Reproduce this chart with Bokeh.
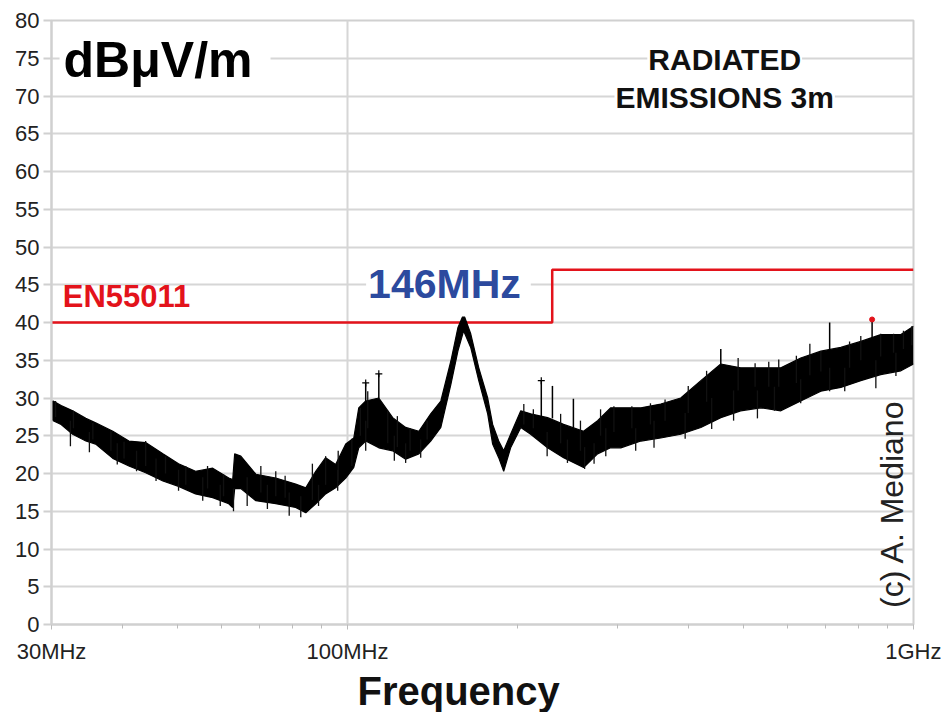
from bokeh.plotting import figure
from bokeh.models import FixedTicker, Label, Range1d, Title
from bokeh.embed import file_html
from bokeh.resources import INLINE

# ---- data ----
# envelope of the measured trace (MHz, dBuV/m)
freq_mhz = [30.0, 30.2, 31.2, 32.7, 34.5, 35.9, 38.5, 41.1, 44.0, 47.2, 50.3, 53.9, 57.8, 61.7,
            62.7, 63.2, 64.8, 68.9, 74.7, 81.0, 84.4, 87.9, 91.5, 95.3, 99.3, 102.6, 104.7, 107.7,
            113.6, 120.2, 126.7, 133.7, 140.3, 146.2, 152.3, 156.7, 160.4, 165.1, 170.6, 176.9,
            180.5, 185.0, 188.8, 194.2, 202.4, 210.7, 225.7, 240.9, 261.3, 276.6, 291.6, 304,
            330, 357.6, 388, 421, 456.6, 495, 537, 583, 632, 686, 744, 807, 875, 950, 1000]
upper_db = [29.4, 29.6, 29.0, 28.3, 27.3, 26.7, 25.6, 24.3, 24.1, 22.6, 21.3, 20.3, 20.7, 19.4,
            19.2, 22.6, 22.3, 19.9, 19.4, 18.6, 18.1, 20.3, 22.1, 21.2, 23.9, 24.7, 28.7, 29.6,
            30.0, 27.4, 26.1, 25.6, 27.9, 29.6, 34.9, 39.3, 41.1, 38.5, 34.0, 30.0,
            26.5, 24.3, 23.0, 25.2, 28.3, 27.9, 27.4, 26.5, 25.6, 27.0, 28.7, 28.7,
            28.7, 29.2, 30.0, 32.3, 34.5, 34.0, 34.0, 34.0, 35.3, 36.2, 36.7, 37.5, 38.4, 38.4, 39.5]
lower_db = [27.5, 27.0, 26.5, 25.2, 24.3, 23.9, 22.0, 21.0, 20.1, 19.0, 18.3, 17.3, 16.8, 16.0,
            15.5, 18.0, 18.0, 16.4, 16.0, 15.5, 14.8, 16.0, 17.3, 18.1, 19.4, 20.8, 23.4, 24.3,
            23.4, 23.0, 21.9, 22.6, 24.3, 26.1, 31.8, 36.2, 38.9, 36.7, 32.3, 27.9,
            23.9, 22.1, 20.3, 23.4, 26.1, 25.2, 23.4, 22.1, 20.8, 22.6, 23.4, 23.4,
            24.3, 24.7, 25.2, 26.1, 27.4, 28.3, 28.7, 28.3, 29.6, 30.9, 31.4, 32.3, 33.1, 33.6, 34.5]

# thin noise strokes poking out of the band (MHz, from dB, to dB)
hair_freq = [30.5, 32.8, 35.5, 38.2, 40.3, 44.0, 47.7, 51.8, 56.6, 60.4,
             32.4, 35.0, 39.2, 42.4, 45.9, 50.3, 55.5, 59.6, 62.9,
             70.3, 74.7, 77.6, 86.7, 91.5, 96.3, 101.8, 105.4, 108.6, 117.8, 122.5, 129.0, 138.3,
             66.5, 72.2, 78.9, 82.7, 88.9, 96.1, 107.7, 121.0, 126.7, 134.7,
             204.9, 213.0, 238.0, 258.0, 280.0, 295.6,
             225.3, 244.7, 262.4, 272.7,
             318, 343, 364, 400, 431, 490, 525, 555, 578,
             286, 323, 348, 395, 440, 481, 530,
             621, 656, 686, 771, 807, 875, 922, 960, 993,
             568, 632, 711, 756, 858, 931]
hair_lo = [27.5, 26.0, 24.5, 23.0, 22.0, 21.0, 20.0, 18.5, 18.0, 17.0,
           23.6, 22.8, 21.2, 20.3, 19.0, 17.7, 16.4, 15.7, 15.0,
           17.5, 17.0, 16.8, 16.5, 18.5, 19.0, 21.0, 25.0, 26.0, 24.0, 23.5, 23.0, 24.5,
           15.7, 15.3, 14.4, 14.2, 15.7, 17.7, 23.0, 21.7, 21.4, 22.1,
           26.5, 26.0, 24.0, 23.0, 25.0, 25.5,
           22.3, 21.4, 20.6, 21.3,
           26.0, 26.5, 27.0, 28.0, 29.5, 31.0, 31.5, 31.5, 31.5,
           22.3, 23.0, 23.4, 24.6, 25.9, 27.0, 27.3,
           32.0, 33.0, 33.5, 34.0, 35.0, 35.5, 36.0, 36.5, 37.0,
           28.3, 29.3, 30.9, 30.9, 31.3, 32.9]
hair_hi = [29.6, 28.3, 26.7, 25.6, 24.2, 24.3, 22.3, 21.0, 21.0, 19.9,
           27.0, 25.5, 24.0, 23.0, 22.0, 20.5, 19.5, 18.5, 18.0,
           21.0, 20.3, 19.7, 21.3, 22.3, 23.0, 24.6, 28.7, 30.9, 28.3, 27.6, 26.0, 27.0,
           19.5, 18.5, 17.5, 17.0, 18.5, 20.5, 27.0, 25.0, 24.0, 24.5,
           29.2, 28.5, 27.9, 27.0, 28.5, 28.9,
           25.5, 24.5, 23.5, 24.0,
           28.9, 29.3, 29.8, 31.6, 33.6, 35.3, 34.6, 34.8, 35.1,
           26.0, 26.0, 27.0, 28.0, 30.0, 31.0, 31.0,
           35.6, 37.2, 36.2, 37.5, 38.2, 38.5, 38.5, 38.9, 39.5,
           31.5, 32.5, 34.0, 34.0, 35.0, 36.0]

# isolated spurious peaks
spike_freq = [107.7, 113.6, 220.0, 230.2, 250.7, 456.6, 711.0, 845.0]
spike_from = [29.6, 30.0, 27.5, 27.3, 26.0, 34.5, 36.3, 37.8]
spike_to = [32.0, 33.2, 32.3, 31.6, 29.9, 36.5, 40.0, 40.4]

cap_freq = [107.7, 113.6, 220.0]
cap_db = [32.0, 33.2, 32.3]

marker_freq = [845.0]
marker_db = [40.4]

# EN55011 limit
limit_freq = [30, 230, 230, 1000]
limit_db = [40, 40, 47, 47]

y_ticks = list(range(0, 85, 5))
x_major = [30, 100, 1000]
x_minor = [40, 50, 60, 70, 80, 90, 200, 300, 400, 500, 600, 700, 800, 900]
x_labels = {30: "30MHz", 100: "100MHz", 1000: "1GHz"}

FONT = "Liberation Sans"

p = figure(width=941, height=712, x_axis_type="log",
           x_range=Range1d(30, 1000), y_range=Range1d(0, 80),
           output_backend="svg", toolbar_location=None,
           min_border_left=51, min_border_right=28, min_border_top=20, min_border_bottom=88)
p.background_fill_color = "white"
p.border_fill_color = "white"
p.outline_line_color = "#d0d0d0"
p.outline_line_width = 2

# axes
p.xaxis.ticker = FixedTicker(ticks=x_major, minor_ticks=x_minor)
p.xaxis.major_label_overrides = x_labels
p.yaxis.ticker = FixedTicker(ticks=y_ticks)
for ax in (p.xaxis[0], p.yaxis[0]):
    ax.axis_line_color = "#d0d0d0"
    ax.axis_line_width = 2
    ax.major_label_text_font = FONT
    ax.major_label_text_font_size = "22px"
    ax.major_label_text_color = "#222222"
    ax.major_tick_in = 0
p.xaxis.major_tick_out = 5
p.xaxis.major_tick_line_color = "#bbbbbb"
p.xaxis.minor_tick_out = 4
p.xaxis.minor_tick_in = 0
p.xaxis.minor_tick_line_color = "#bbbbbb"
p.xaxis.major_label_standoff = 9
p.yaxis.major_tick_out = 8
p.yaxis.major_tick_line_color = "#d0d0d0"
p.yaxis.major_tick_line_width = 2
p.yaxis.minor_tick_line_color = None
p.yaxis.major_label_standoff = 4

# x axis title
p.add_layout(Title(text="Frequency", align="left", offset=306, standoff=0,
                   text_font=FONT, text_font_style="bold", text_font_size="40px",
                   text_color="#111111"), "below")

# grids
p.xgrid.ticker = FixedTicker(ticks=[100])
p.xgrid.grid_line_color = "#d6d6d6"
p.xgrid.grid_line_width = 2
p.ygrid.grid_line_color = "#d6d6d6"
p.ygrid.grid_line_width = 2

# limit line
p.line(limit_freq, limit_db, line_color="#e3131b", line_width=2.5)

# measured trace
p.varea(x=freq_mhz, y1=lower_db, y2=upper_db, fill_color="black")
p.line(freq_mhz, upper_db, line_color="black", line_width=1.2)
p.line(freq_mhz, lower_db, line_color="black", line_width=1.2)
p.segment(x0=hair_freq, y0=hair_lo, x1=hair_freq, y1=hair_hi, line_color="#111111", line_width=1.3)
p.segment(x0=spike_freq, y0=spike_from, x1=spike_freq, y1=spike_to, line_color="black", line_width=1.5)
p.scatter(cap_freq, cap_db, marker="cross", size=7, line_color="black", line_width=1.2)
p.scatter(marker_freq, marker_db, marker="circle", size=5, fill_color="#e3131b", line_color="#e3131b")

# texts
def lab(**kw):
    base = dict(text_font=FONT, text_baseline="alphabetic")
    base.update(kw)
    p.add_layout(Label(**base))

lab(x=31.0, y=74.9, text="dBμV/m", text_font_style="bold", text_font_size="50px",
    text_color="black", background_fill_color="white", padding=(4, 18, 4, 2))
lab(x=463.9, y=74.9, text="RADIATED", text_align="center", text_font_style="bold",
    text_font_size="30px", text_color="#111111", background_fill_color="white", padding=1)
lab(x=463.9, y=69.8, text="EMISSIONS 3m", text_align="center", text_font_style="bold",
    text_font_size="30px", text_color="#111111", background_fill_color="white", padding=1)
lab(x=31.4, y=43.4, text="EN55011", text_font_style="bold", text_font_size="31px",
    text_color="#e3131b")
lab(x=150.8, y=44.5, text="146MHz", text_align="center", text_font_style="bold",
    text_font_size="41px", text_color="#2c4a9e", background_fill_color="white",
    padding=(2, 10, 0, 10))
lab(x=914.8, y=2.2, text="(c) A. Mediano", angle=90, angle_units="deg",
    text_font_size="32px", text_color="#222222")

open("out.html", "w").write(file_html(p, INLINE))
